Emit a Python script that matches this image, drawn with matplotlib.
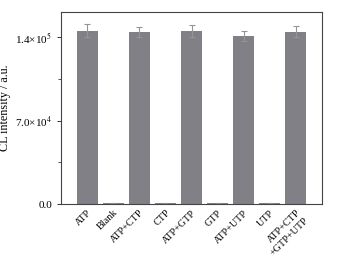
import matplotlib
matplotlib.use("Agg")
import matplotlib.pyplot as plt
from matplotlib.ticker import FixedLocator

categories = ["ATP", "Blank", "ATP+CTP", "CTP", "ATP+GTP", "GTP", "ATP+UTP", "UTP", "ATP+CTP\n+GTP+UTP"]
values = [145300, 1200, 143900, 1200, 145000, 1200, 141100, 1200, 144600]
errors = [5500, 0, 4200, 0, 4800, 0, 4000, 0, 4600]
ytick_vals = [0, 70000, 140000]
ytick_labels = ["0.0", "7.0×10$^4$", "1.4×10$^5$"]

plt.rcParams['font.family'] = ['Liberation Serif', 'DejaVu Serif']
plt.rcParams['mathtext.fontset'] = 'stix'

fig = plt.figure(figsize=(3.43, 2.56), dpi=100)
ax = fig.add_axes([61/343, 1-204/256, (322-61)/343, (204-12)/256])
x = list(range(len(categories)))
ax.bar(x, values, width=0.8, color="#808086", yerr=errors,
       error_kw=dict(ecolor="#959595", elinewidth=0.8, capsize=2, capthick=0.8))
ax.set_xlim(-1, 9)
ax.set_ylim(0, 161000)
ax.set_yticks(ytick_vals)
ax.set_yticklabels(ytick_labels, fontsize=8)
ax.yaxis.set_minor_locator(FixedLocator([35000, 105000]))
ax.tick_params(axis='y', which='major', direction='out', length=3, width=0.7, colors="#333333", labelcolor="black")
ax.tick_params(axis='y', which='minor', direction='out', length=2, width=0.6, colors="#333333")
ax.set_xticks(x)
ax.set_xticklabels(categories, rotation=45, ha='right', rotation_mode='anchor',
                   fontsize=7.3, linespacing=1.25, multialignment='right')
ax.tick_params(axis='x', length=0, pad=3)
for s in ax.spines.values():
    s.set_color("#444444")
    s.set_linewidth(0.8)
ax.set_ylabel("CL intensity / a.u.", fontsize=8.7, labelpad=3)
fig.savefig("out.png", dpi=100)
